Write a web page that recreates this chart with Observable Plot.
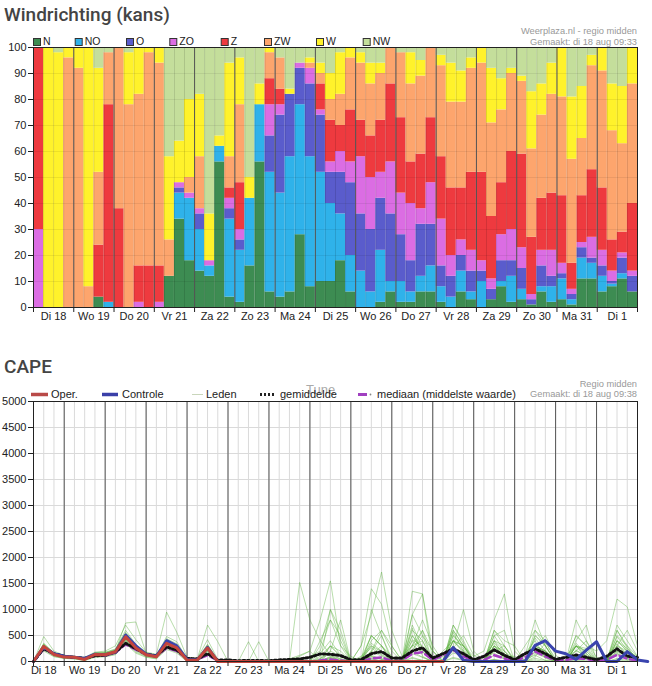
<!DOCTYPE html>
<html><head><meta charset="utf-8">
<script src="https://cdn.jsdelivr.net/npm/d3@7"></script>
<script src="https://cdn.jsdelivr.net/npm/@observablehq/plot@0.6"></script>
<style>
html,body{margin:0;padding:0;background:#fff;overflow:hidden;width:652px;height:686px}
#root{position:relative;width:652px;height:686px;font-family:"Liberation Sans",Arial,sans-serif}
.chart{position:absolute;left:0}
</style></head>
<body><div id="root"><div id="c1" class="chart" style="top:40px"></div><div id="c2" class="chart" style="top:394px"></div></div>
<script>
// ---------- Data: wind direction probabilities (%) per 6h block ----------
const dirs = ["N","NO","O","ZO","Z","ZW","W","NW"];
const dirColors = ["#3d8c52","#2fb2ea","#5a5ccc","#db6de3","#ee3a3f","#fda56d","#fff22b","#c4de9b"];
const dayLabels = ["Di 18","Wo 19","Do 20","Vr 21","Za 22","Zo 23","Ma 24","Di 25","Wo 26","Do 27","Vr 28","Za 29","Zo 30","Ma 31","Di 1"];

const windN  = [0,0,0,0,0,0,4,0,0,0, 0,0,0,12,34,18,14,12,56,4, 2,16,56,6,4,6,28,8,10,10, 18,6,0,0,2,6,2,2,6,6, 2,0,6,3,0,3,8,2,3,1, 6,2,3,1,11,11,6,8,11,6];
const windNO = [0,0,0,0,0,0,0,2,0,0, 0,0,0,0,10,24,16,4,6,30, 20,26,22,46,40,52,50,50,42,30, 18,14,14,6,20,4,8,4,6,10, 6,4,8,3,10,0,2,10,4,0, 2,6,8,2,8,6,6,1,2,0];
const windO  = [0,0,0,0,0,0,0,0,0,0, 0,0,0,0,2,0,6,0,0,4, 4,0,0,14,30,24,14,28,22,12, 16,28,22,24,20,26,18,12,20,16, 8,8,6,8,4,4,8,6,8,2, 8,4,2,2,4,2,4,1,6,6];
const windZO = [30,0,0,0,0,0,0,0,0,0, 2,0,2,0,2,2,2,2,0,4, 4,0,0,12,4,0,2,6,2,4, 8,8,22,20,10,20,16,22,6,16, 18,8,6,8,4,4,10,12,8,2, 6,10,4,2,2,8,6,4,2,2];
const windZ  = [70,0,0,0,0,0,20,76,38,0, 14,16,14,0,0,0,0,0,0,4, 18,0,0,10,6,0,0,0,10,16, 10,20,14,16,20,30,29,16,21,25, 24,26,20,30,34,24,20,30,36,22, 20,22,26,10,18,26,24,12,8,26];
const windZW = [0,0,0,96,92,8,28,20,62,78, 66,82,78,14,0,6,20,0,0,12, 30,0,0,10,12,0,0,2,4,8, 12,20,22,20,18,14,25,30,30,27, 35,33,33,40,42,36,28,30,28,34, 32,38,38,40,22,40,45,42,34,46];
const windW  = [0,100,98,4,8,92,40,0,0,20, 18,2,6,32,16,30,24,18,4,36, 18,8,8,2,0,2,0,2,4,10, 16,4,4,8,4,0,0,12,6,0, 4,15,12,4,6,21,12,2,2,22, 12,12,19,24,20,4,9,18,22,14];
const windNW = [0,0,2,0,0,0,8,2,0,2, 0,0,0,42,36,20,18,64,34,6, 4,50,14,0,4,16,6,4,6,10, 2,0,2,6,6,0,2,2,5,0, 3,6,9,4,0,8,12,8,11,17, 14,6,0,19,15,3,0,14,15,0];

// ---------- Data: CAPE (J/kg), 6-hourly from Di 18 06:00 ----------
const capeOper = [0,290,135,85,80,40,135,130,187,475,260,130,90,350,260,25,30,260,0, 0,0,0,0,0,0,0,0,0,0,0,0,0,0,0,0,0,0,0,0,0,0];
const capeControle = [0,280,150,100,80,60,140,130,180,510,300,140,100,400,300,40,30,270,0, 0,0,0,0,0,0,0,0,0,0,0,0,0,0,0,0,0,0,0,0,0,0, 270,25,0,0,0,0,0,0,310,400,200,150,40,220,380,0,0,190,30,0];
const capeGemiddelde = [0,250,150,100,80,60,110,120,180,350,250,140,110,280,220,60,50,150,30, 30,15,20,20,15,30,40,50, 80,146,140,113,35,35,150,191,66,66,200,264,66,150,244,150,35,100,224,120,35,150,244,150,40,80,126,80,35,100,244,100,79];
const capeMediaan = [0,240,140,95,75,55,110,115,170,330,230,130,100,260,200,50,40,120,20, 0,0,0,0,0,0,0,0, 0,20,40,20,0,0,60,80,10,20,150,180,30,120,220,100,10,30,120,60,10,80,190,100,20,30,60,50,10,30,130,50,20];

const lid01 = [0,310,160,100,90,60,150,160,220,520,300,150,110,380,300,40,40,280,10, 0,0,0,0,0,0,0,0, 0,60,150,40,0,80,260,120,10,40,320,180,20,0,400,160,10,0,300,80,0,30,260,200,40,0,120,60,0,60,340,120,20];
const lid02 = [0,260,120,70,60,30,110,120,160,420,230,110,80,300,220,20,20,220,0, 0,0,20,0,0,0,0,0, 20,150,400,120,10,0,180,500,60,0,420,300,30,10,560,200,20,0,240,60,0,10,180,120,30,0,100,40,40,0,480,220,60];
const lid03 = [0,480,200,120,100,80,180,200,300,700,420,180,140,950,560,80,60,420,40, 0,0,0,0,0,0,0,0, 0,0,60,20,0,0,120,40,0,0,640,100,0,0,160,120,20,0,600,300,40,0,90,360,60,0,220,100,0,0,180,60,0];
const lid04 = [0,220,100,60,50,20,90,100,140,360,180,90,60,250,180,10,10,160,0, 0,0,0,0,0,0,0,0, 0,20,80,10,0,30,90,40,0,60,200,80,0,100,260,60,0,80,160,40,0,40,120,20,0,10,110,60,0,30,150,40,0];
const lid05 = [0,330,140,90,80,50,140,150,200,740,760,160,100,480,380,50,40,320,20, 0,0,0,0,0,0,0,1520, 800,400,120,0,0,0,200,600,300,20,500,200,0,0,300,1000,200,0,500,200,0,0,260,500,120,0,200,400,80,0,300,150,0];
const lid06 = [0,280,130,90,70,40,120,130,190,460,260,120,90,330,250,30,30,230,0, 0,0,0,0,0,0,20,100, 200,800,1550,300,0,100,300,140,20,0,700,260,30,0,260,500,120,0,400,80,10,150,400,80,0,120,300,60,0,20,600,260,40];
const lid07 = [0,300,150,110,90,70,160,150,200,500,290,150,110,400,300,50,50,300,20, 0,0,0,0,0,0,0,0, 0,300,1000,400,0,300,900,1720,600,100,300,800,300,0,600,300,40,0,300,100,100,0,250,60,0,80,200,120,0,40,200,120,40];
const lid08 = [0,350,170,120,100,60,170,180,240,560,320,160,120,420,320,60,50,330,30, 0,0,0,0,0,0,0,0, 0,40,300,100,0,60,500,300,100,0,1350,1300,200,0,400,200,0,0,300,150,0,0,500,300,0,0,300,200,0,0,400,200,20];
const lid09 = [0,240,110,80,70,30,100,110,170,400,200,100,70,280,200,20,20,190,0, 0,0,0,0,0,0,0,0, 0,0,100,60,0,0,120,300,60,0,200,500,0,0,500,300,100,200,800,1300,200,0,300,200,0,0,500,300,0,0,400,200,0];
const lid10 = [0,270,150,100,80,50,130,140,180,450,250,140,100,320,240,40,30,250,10, 0,0,0,0,0,0,0,0, 0,100,300,200,0,0,400,600,200,0,300,400,0,0,400,300,0,0,300,200,0,100,800,300,0,0,500,300,200,400,1200,1050,300];
const lid11 = [0,300,140,95,85,55,145,140,200,480,280,140,100,360,270,30,30,270,10, 0,0,380,0,0,0,0,0, 0,0,200,100,0,0,300,200,0,0,200,600,0,200,400,200,0,0,200,300,0,300,600,300,0,0,800,400,0,0,300,200,100];
const lid12 = [0,290,130,90,80,45,130,130,180,470,270,130,90,340,260,30,30,260,0, 0,0,0,380,0,0,0,0, 0,0,80,40,0,0,100,60,0,0,150,80,0,0,200,100,0,0,120,60,0,0,150,80,0,0,100,60,0,0,150,60,0];
const lid13 = [0,200,90,60,50,20,80,90,130,340,160,80,50,230,160,0,10,130,0, 0,0,0,0,0,0,0,0, 0,0,0,0,0,0,40,20,0,0,60,20,0,0,80,30,0,0,40,10,0,0,60,20,0,0,40,10,0,0,60,20,0];
const lid14 = [0,320,160,110,90,70,160,170,220,540,300,150,110,400,300,50,40,300,20, 0,0,0,0,0,0,0,0, 0,400,800,300,100,0,500,300,0,0,600,400,0,0,500,250,0,0,400,300,0,0,600,400,0,0,300,200,0,0,500,300,100];
const lid15 = [0,270,140,100,80,60,150,140,200,440,270,140,110,350,260,40,40,250,10, 0,0,0,0,0,0,50,120, 200,0,300,100,0,0,350,200,0,0,500,250,100,0,700,350,0,100,350,150,0,0,450,200,0,0,400,700,0,0,600,300,0];
const lid16 = [0,310,150,100,90,60,150,150,210,490,290,150,110,370,280,40,40,290,10, 0,0,0,0,0,0,0,0, 20,0,1000,600,0,300,1400,1100,300,0,900,500,200,0,700,400,0,0,600,400,300,0,500,300,0,0,300,150,0,0,700,400,100];
const lid17 = [0,260,130,90,80,50,120,120,170,420,240,120,80,320,240,20,20,230,0, 0,0,0,0,0,0,0,0, 0,0,60,20,0,0,200,100,0,0,300,600,200,0,300,100,0,0,200,100,0,0,200,100,0,0,300,100,0,0,200,100,0];
const lid18 = [0,300,140,90,90,60,140,140,190,460,260,130,90,340,250,30,30,260,10, 0,0,0,0,30,0,0,0, 100,200,800,500,0,0,500,300,0,0,400,200,0,0,600,300,0,0,400,200,0,0,300,200,0,0,350,150,0,0,400,250,50];
const lid19 = [0,340,160,110,100,70,160,170,230,600,330,170,120,440,340,60,50,700,380, 0,0,0,0,0,0,0,0, 0,0,200,800,0,0,1000,500,0,0,900,1300,0,0,400,300,0,0,500,600,0,0,300,200,0,0,300,250,0,0,300,600,200];
const lid20 = [0,250,120,80,70,40,110,110,160,400,230,110,80,290,210,20,20,200,0, 0,0,0,0,0,0,0,0, 0,0,40,0,0,0,60,0,0,0,80,20,0,0,60,20,0,0,40,0,0,0,30,0,0,0,20,0,0,0,40,0,0];

// ---------- Build tables ----------
const windSeries = [windN, windNO, windO, windZO, windZ, windZW, windW, windNW];
const windRows = [];
for (let i = 0; i < 60; i++) windSeries.forEach((arr, k) => windRows.push({t0: i*6, t1: i*6+6, dir: dirs[k], v: arr[i]}));

const capeHour = j => 6 + 6*j;
const toRows = arr => arr.map((v, j) => ({t: capeHour(j), v}));
const leden = [lid01,lid02,lid03,lid04,lid05,lid06,lid07,lid08,lid09,lid10,lid11,lid12,lid13,lid14,lid15,lid16,lid17,lid18,lid19,lid20];
const memberRows = [];
leden.forEach((arr, m) => arr.forEach((v, j) => memberRows.push({t: capeHour(j), v, m})));

const dayBounds = d3.range(24, 361, 24);
const noonTicks = d3.range(12, 360, 24);
const sixH = d3.range(6, 360, 6);
const dayName = d => dayLabels[Math.floor(d/24)];
const font = {fontFamily: "'Liberation Sans', Arial, sans-serif", fontSize: "11px", color: "#222", background: "transparent"};

// ---------- Chart 1: Windrichting ----------
const p1 = Plot.plot({
  width: 652, height: 290, marginLeft: 33, marginRight: 15, marginTop: 7, marginBottom: 23,
  style: font,
  x: {domain: [0, 360], axis: null},
  y: {domain: [0, 100], axis: null},
  color: {domain: dirs, range: dirColors},
  marks: [
    Plot.rectY(windRows, {x1: "t0", x2: "t1", y: "v", fill: "dir"}),
    Plot.ruleX(sixH, {stroke: "#000", strokeOpacity: 0.12}),
    Plot.ruleY(d3.range(10, 100, 10), {stroke: "#000", strokeOpacity: 0.07}),
    Plot.ruleX(dayBounds, {stroke: "#555", strokeWidth: 1}),
    Plot.frame({stroke: "#222"}),
    Plot.axisY({ticks: d3.range(0, 101, 10), tickSize: 5, tickPadding: 2, tickFormat: d => String(d), stroke: "#222", label: null}),
    Plot.axisX({ticks: [0, ...dayBounds], tickSize: 5, tickFormat: () => "", stroke: "#222", label: null}),
    Plot.axisX({ticks: noonTicks, tickSize: 0, tickPadding: 5, tickFormat: dayName, label: null})
  ]
});
document.getElementById("c1").appendChild(p1);

// ---------- Chart 2: CAPE ----------
const p2 = Plot.plot({
  width: 652, height: 292, marginLeft: 33, marginRight: 15, marginTop: 7, marginBottom: 25,
  style: font,
  x: {domain: [6, 360], axis: null},
  y: {domain: [0, 5000], axis: null},
  marks: [
    Plot.ruleX(sixH.filter(h => h > 6), {stroke: "#dadada"}),
    Plot.ruleY(d3.range(500, 5000, 500), {stroke: "#dadada"}),
    Plot.ruleX(dayBounds, {stroke: "#555"}),
    Plot.line(memberRows, {x: "t", y: "v", z: "m", stroke: "#56ad38", strokeOpacity: 0.42, strokeWidth: 1}),
    Plot.line(toRows(capeMediaan), {x: "t", y: "v", stroke: "#a63dc2", strokeWidth: 2.5, strokeDasharray: "7,4"}),
    Plot.line(toRows(capeGemiddelde), {x: "t", y: "v", stroke: "#111", strokeWidth: 3, strokeDasharray: "2,2.5"}),
    Plot.line(toRows(capeControle), {x: "t", y: "v", stroke: "#3a44ae", strokeWidth: 3}),
    Plot.line(toRows(capeOper), {x: "t", y: "v", stroke: "#c4453d", strokeWidth: 3}),
    Plot.frame({stroke: "#222"}),
    Plot.axisY({ticks: d3.range(0, 5001, 500), tickSize: 5, tickPadding: 2, tickFormat: d => String(d), stroke: "#222", label: null}),
    Plot.axisX({ticks: [6, ...dayBounds], tickSize: 5, tickFormat: () => "", stroke: "#222", label: null}),
    Plot.axisX({ticks: noonTicks, tickSize: 0, tickPadding: 5, tickFormat: dayName, label: null})
  ]
});
document.getElementById("c2").appendChild(p2);

// ---------- Titles, legends, credits (overlay) ----------
const ov = d3.select("#root").append("svg")
  .attr("width", 652).attr("height", 686)
  .style("position", "absolute").style("left", 0).style("top", 0).style("pointer-events", "none");
function txt(x, y, s, o = {}) {
  return ov.append("text").attr("x", x).attr("y", y).text(s)
    .attr("font-family", o.family || "'Liberation Sans', Arial, sans-serif")
    .attr("font-size", o.size || 11).attr("fill", o.fill || "#222")
    .attr("font-weight", o.weight || 400).attr("text-anchor", o.anchor || "start");
}
const titleFont = {family: "Roboto, 'Noto Sans', sans-serif", size: 19, fill: "#444", weight: 500};
txt(4, 21, "Windrichting (kans)", titleFont);
txt(637, 34, "Weerplaza.nl - regio midden", {size: 9.3, fill: "#999", anchor: "end"});
txt(637, 44.5, "Gemaakt: di 18 aug 09:33", {size: 9.3, fill: "#999", anchor: "end"});

const legX = [33, 74.7, 126, 169.3, 220.7, 264, 316, 362.7];
dirs.forEach((d, i) => {
  ov.append("rect").attr("x", legX[i] + 0.5).attr("y", 38.5).attr("width", 7).attr("height", 7)
    .attr("fill", dirColors[i]).attr("stroke", "#333").attr("stroke-width", 1);
  txt(legX[i] + 10, 45, d, {size: 10.5});
});

txt(4, 373, "CAPE", titleFont);
txt(637, 387, "Regio midden", {size: 9.3, fill: "#999", anchor: "end"});
txt(637, 397, "Gemaakt: di 18 aug 09:38", {size: 9.3, fill: "#999", anchor: "end"});

const ly = 394.5;
ov.append("line").attr("x1", 31).attr("x2", 48).attr("y1", ly).attr("y2", ly).attr("stroke", "#b94a48").attr("stroke-width", 3.5);
txt(51, 398, "Oper.");
ov.append("line").attr("x1", 102).attr("x2", 118).attr("y1", ly).attr("y2", ly).attr("stroke", "#3a3fa8").attr("stroke-width", 3.5);
txt(122, 398, "Controle");
ov.append("line").attr("x1", 192).attr("x2", 203).attr("y1", ly).attr("y2", ly).attr("stroke", "#c9d6bb").attr("stroke-width", 1);
txt(206, 398, "Leden");
txt(306, 394, "Tune", {size: 13, fill: "#aaa"});
ov.append("line").attr("x1", 260).attr("x2", 274).attr("y1", ly).attr("y2", ly).attr("stroke", "#222").attr("stroke-width", 3).attr("stroke-dasharray", "2,2");
txt(280, 398, "gemiddelde");
ov.append("line").attr("x1", 358).attr("x2", 367).attr("y1", ly).attr("y2", ly).attr("stroke", "#a040c0").attr("stroke-width", 3);
ov.append("circle").attr("cx", 370.5).attr("cy", ly).attr("r", 0.9).attr("fill", "#888");
txt(377, 398, "mediaan (middelste waarde)");
</script>
</body></html>
